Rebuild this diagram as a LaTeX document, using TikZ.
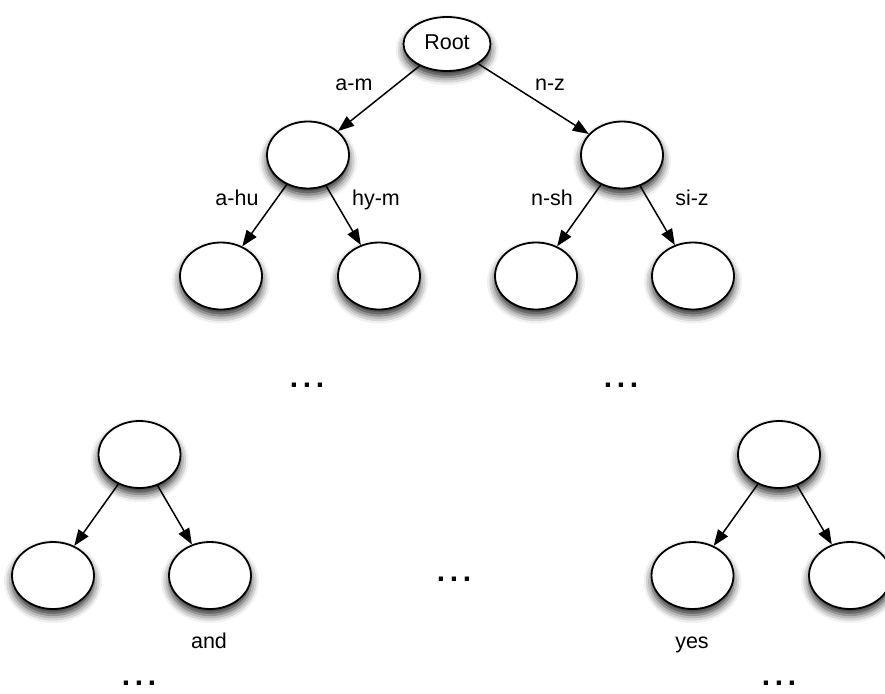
\documentclass[tikz,border=0pt]{standalone}
\usepackage{fontspec}
\setmainfont{Liberation Sans}
\usetikzlibrary{shapes.geometric,arrows.meta,shadows.blur}

\begin{document}
\begin{tikzpicture}[x=1pt,y=-1pt,
  every node/.style={font=\fontsize{21.5}{26}\selectfont, inner sep=0pt},
  treenode/.style={ellipse, draw, line width=1.8pt, fill=white,
    minimum width=82pt, minimum height=67pt,
    blur shadow={shadow xshift=0pt, shadow yshift=-6pt,
                 shadow blur radius=8pt, shadow opacity=85}},
  rootnode/.style={treenode, minimum width=87pt, minimum height=54pt},
  link/.style={line width=1.5pt, -{Triangle[length=16pt,width=12pt]}},
  edgelabel/.style={anchor=base},
  more/.style={font=\fontsize{30}{30}\bfseries\selectfont},
]
\useasboundingbox (0,0) rectangle (885,693);
\clip (0,0) rectangle (885,693);

% upper tree
\node[rootnode] (root) at (447,44) {\raisebox{3pt}{Root}};
\node[treenode] (l) at (308,155) {};
\node[treenode] (r) at (622,155) {};
\node[treenode] (ll) at (221,276) {};
\node[treenode] (lr) at (379,276) {};
\node[treenode] (rl) at (536,276) {};
\node[treenode] (rr) at (693,276) {};

\draw[link] (root) -- (l);
\draw[link] (root) -- (r);
\draw[link] (l) -- (ll);
\draw[link] (l) -- (lr);
\draw[link] (r) -- (rl);
\draw[link] (r) -- (rr);

\node[edgelabel] (tam) at (354,90) {a-m};
\node[edgelabel] (tnz) at (550,90) {n-z};
\node[edgelabel] (tahu) at (237,205) {a-hu};
\node[edgelabel] (thym) at (376,205) {hy-m};
\node[edgelabel] (tnsh) at (552,205) {n-sh};
\node[edgelabel] (tsiz) at (692,205) {si-z};

\node[more] (d1) at (307,385) {.\kern4.7pt.\kern4.7pt.};
\node[more] (d2) at (621,385) {.\kern4.7pt.\kern4.7pt.};

% lower left subtree
\node[treenode] (bl) at (139.5,454.5) {};
\node[treenode] (bll) at (53,575.5) {};
\node[treenode] (blr) at (210,575.5) {};
\draw[link] (bl) -- (bll);
\draw[link] (bl) -- (blr);

% lower right subtree
\node[treenode] (br) at (779,454.5) {};
\node[treenode] (brl) at (692.5,575.5) {};
\node[treenode] (brr) at (850,575.5) {};
\draw[link] (br) -- (brl);
\draw[link] (br) -- (brr);

\node[more] (d3) at (454,579) {.\kern4.7pt.\kern4.7pt.};

\node[edgelabel] (wand) at (209,648) {and};
\node[edgelabel] (wyes) at (692,648) {yes};

\node[more] (d4) at (139,683) {.\kern4.7pt.\kern4.7pt.};
\node[more] (d5) at (779,683) {.\kern4.7pt.\kern4.7pt.};
\end{tikzpicture}
\end{document}
